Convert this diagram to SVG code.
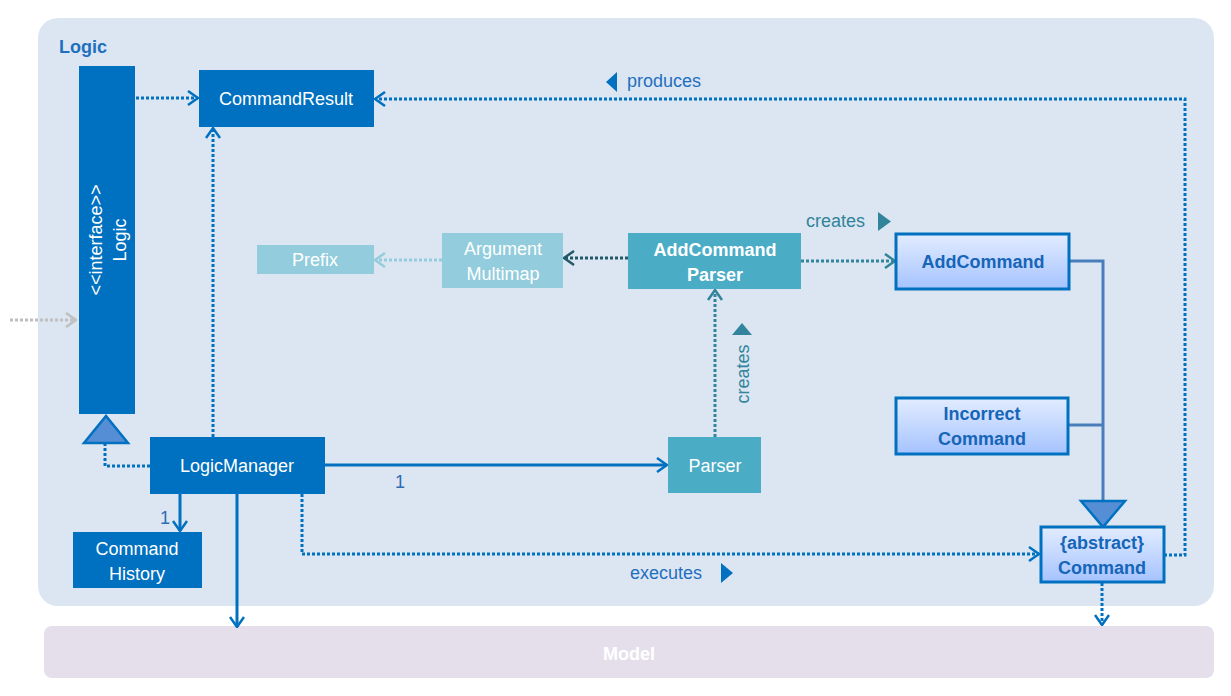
<svg xmlns="http://www.w3.org/2000/svg" width="1231" height="696" viewBox="0 0 1231 696">
<style>
.t{font-family:"Liberation Sans",Arial,sans-serif;font-size:18px;fill:#fff;text-anchor:middle}
.b{font-weight:bold}
.cmd{fill:url(#g);stroke:#0070C0;stroke-width:3}
.ct{font-family:"Liberation Sans",Arial,sans-serif;font-size:18px;font-weight:bold;fill:#1565B8;text-anchor:middle}
.lbl{font-family:"Liberation Sans",Arial,sans-serif;font-size:18px}
.dot{fill:none;stroke-width:3;stroke-dasharray:3 2}
.sol{fill:none;stroke-width:3}
</style>
<defs>
<linearGradient id="g" x1="0" y1="0" x2="0" y2="1">
<stop offset="0" stop-color="#E2ECFF"/>
<stop offset="1" stop-color="#A5C3FF"/>
</linearGradient>
<marker id="ab" markerUnits="userSpaceOnUse" viewBox="0 0 12 16" refX="11" refY="8" markerWidth="12" markerHeight="16" orient="auto"><path d="M1,1 L11,8 L1,15" fill="none" stroke="#0070C0" stroke-width="2.5"/></marker>
<marker id="at" markerUnits="userSpaceOnUse" viewBox="0 0 12 16" refX="11" refY="8" markerWidth="12" markerHeight="16" orient="auto"><path d="M1,1 L11,8 L1,15" fill="none" stroke="#31849B" stroke-width="2.5"/></marker>
<marker id="ad" markerUnits="userSpaceOnUse" viewBox="0 0 12 16" refX="11" refY="8" markerWidth="12" markerHeight="16" orient="auto"><path d="M1,1 L11,8 L1,15" fill="none" stroke="#215968" stroke-width="2.5"/></marker>
<marker id="al" markerUnits="userSpaceOnUse" viewBox="0 0 12 16" refX="11" refY="8" markerWidth="12" markerHeight="16" orient="auto"><path d="M1,1 L11,8 L1,15" fill="none" stroke="#93CDDD" stroke-width="2.5"/></marker>
<marker id="ag" markerUnits="userSpaceOnUse" viewBox="0 0 12 16" refX="11" refY="8" markerWidth="12" markerHeight="16" orient="auto"><path d="M1,1 L11,8 L1,15" fill="none" stroke="#BFBFBF" stroke-width="2.5"/></marker>
</defs>
<rect width="1231" height="696" fill="#fff"/>
<g id="logic-package">
<rect x="38" y="18" width="1176" height="588" rx="20" fill="#DCE6F2"/>
<text x="59" y="53" class="lbl b" fill="#1F6FC0" font-size="20">Logic</text>
</g>
<g id="model-package">
<rect x="44" y="626" width="1170" height="52" rx="8" fill="#E5DFEC"/>
<text x="629" y="660" class="t b">Model</text>
</g>
<g id="connectors">
<path d="M10,320 H76" class="dot" stroke="#BFBFBF" marker-end="url(#ag)"/>
<path d="M136,98 H198" class="dot" stroke="#0070C0" marker-end="url(#ab)"/>
<path d="M213,437 V128" class="dot" stroke="#0070C0" marker-end="url(#ab)"/>
<path d="M150,466 H105 V444" class="dot" stroke="#0070C0"/>
<path d="M1164,555 H1185 V99 H375" class="dot" stroke="#0070C0" marker-end="url(#ab)"/>
<path d="M442,260 H375" class="dot" stroke="#93CDDD" marker-end="url(#al)"/>
<path d="M628,258 H564" class="dot" stroke="#215968" marker-end="url(#ad)"/>
<path d="M801,261 H895" class="dot" stroke="#31849B" marker-end="url(#at)"/>
<path d="M715,437 V290" class="dot" stroke="#31849B" marker-end="url(#at)"/>
<path d="M325,465 H667" class="sol" stroke="#0070C0" marker-end="url(#ab)"/>
<path d="M180,494 V531" class="sol" stroke="#0070C0" marker-end="url(#ab)"/>
<path d="M237,494 V627" class="sol" stroke="#0070C0" marker-end="url(#ab)"/>
<path d="M302,494 V554 H1039" class="dot" stroke="#0070C0" marker-end="url(#ab)"/>
<path d="M1102,583 V625" class="dot" stroke="#0070C0" marker-end="url(#ab)"/>
<path d="M1069,261 H1103 V500 M1068,425 H1103" class="sol" stroke="#4A7EBB"/>
<polygon points="84,443 128,443 106,416" fill="#558ED5" stroke="#0070C0" stroke-width="2.5"/>
<polygon points="1081,501 1125,501 1103,527" fill="#558ED5" stroke="#0070C0" stroke-width="2.5"/>
<text x="400" y="488" class="lbl" fill="#2E6DB4" text-anchor="middle">1</text>
<text x="165" y="524" class="lbl" fill="#2E6DB4" text-anchor="middle">1</text>
<text x="627" y="87" class="lbl" fill="#1F6FC0">produces</text>
<polygon points="617,72 617,92 606,82" fill="#0070C0"/>
<text x="630" y="579" class="lbl" fill="#1F6FC0">executes</text>
<polygon points="721,563 721,583 733,573" fill="#0070C0"/>
<text x="806" y="227" class="lbl" fill="#31849B">creates</text>
<polygon points="878,212 878,231 891,221.5" fill="#31849B"/>
<text x="0" y="0" class="lbl" fill="#31849B" text-anchor="middle" transform="translate(749,374) rotate(-90)">creates</text>
<polygon points="732,335 752,335 742,323" fill="#31849B"/>
</g>
<g id="logic-interface">
<rect x="79" y="66" width="56" height="348" fill="#0070C0"/>
<text class="t" transform="translate(102,240) rotate(-90)">&lt;&lt;interface&gt;&gt;</text>
<text class="t" transform="translate(126,240) rotate(-90)">Logic</text>
</g>
<g id="command-result">
<rect x="199" y="70" width="175" height="57" fill="#0070C0"/>
<text x="286" y="105" class="t">CommandResult</text>
</g>
<g id="logic-manager">
<rect x="150" y="437" width="175" height="57" fill="#0070C0"/>
<text x="237" y="472" class="t">LogicManager</text>
</g>
<g id="command-history">
<rect x="73" y="532" width="129" height="56" fill="#0070C0"/>
<text x="137" y="555" class="t">Command</text>
<text x="137" y="580" class="t">History</text>
</g>
<g id="prefix">
<rect x="257" y="245" width="117" height="29" fill="#93CDDD"/>
<text x="315" y="266" class="t">Prefix</text>
</g>
<g id="argument-multimap">
<rect x="442" y="233" width="121" height="55" fill="#93CDDD"/>
<text x="503" y="255" class="t">Argument</text>
<text x="503" y="280" class="t">Multimap</text>
</g>
<g id="addcommand-parser">
<rect x="628" y="233" width="173" height="56" fill="#4BACC6"/>
<text x="715" y="256" class="t b">AddCommand</text>
<text x="715" y="281" class="t b">Parser</text>
</g>
<g id="parser">
<rect x="668" y="437" width="93" height="56" fill="#4BACC6"/>
<text x="715" y="472" class="t">Parser</text>
</g>
<g id="add-command">
<rect x="896" y="234" width="173" height="55" class="cmd"/>
<text x="983" y="268" class="ct">AddCommand</text>
</g>
<g id="incorrect-command">
<rect x="896" y="398" width="172" height="56" class="cmd"/>
<text x="982" y="420" class="ct">Incorrect</text>
<text x="982" y="445" class="ct">Command</text>
</g>
<g id="abstract-command">
<rect x="1041" y="527" width="123" height="55" class="cmd"/>
<text x="1102" y="549" class="ct">{abstract}</text>
<text x="1102" y="574" class="ct">Command</text>
</g>
</svg>
